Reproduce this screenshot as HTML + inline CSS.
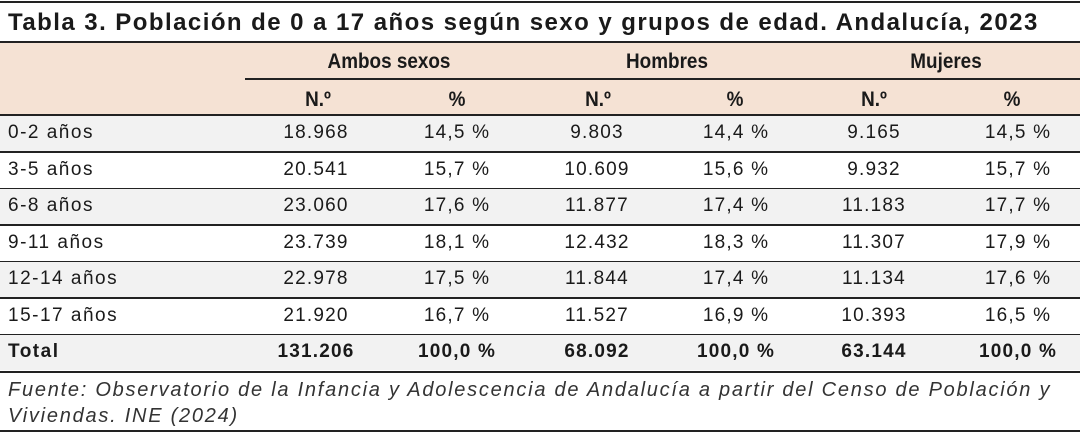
<!DOCTYPE html>
<html><head><meta charset="utf-8"><style>
body{margin:0;width:1080px;height:434px;background:#fff;position:relative;overflow:hidden;font-family:"Liberation Sans",sans-serif;color:#1a1a1a}
.a{position:absolute}
.hl{position:absolute;left:0;width:1080px;height:2px;background:#222}
.t{position:absolute;font-size:19px;letter-spacing:1.2px;white-space:nowrap;transform:translateX(-50%)}
.l{position:absolute;font-size:19px;letter-spacing:1.5px;left:8px}
.h{position:absolute;font-size:21px;font-weight:bold;transform:translateX(-50%) scaleX(0.9);white-space:nowrap}
</style></head><body>
<div class="hl" style="top:1px"></div>
<div class="a" style="left:8px;top:9px;font-size:24px;font-weight:bold;letter-spacing:1.45px;white-space:nowrap">Tabla 3. Población de 0 a 17 años según sexo y grupos de edad. Andalucía, 2023</div>
<div class="hl" style="top:41px"></div>
<div class="a" style="left:0;top:43px;width:1080px;height:72px;background:#f5e2d4"></div>
<div class="a" style="left:245px;top:78px;width:835px;height:2px;background:#222"></div>
<div class="h" style="left:389px;top:50px">Ambos sexos</div>
<div class="h" style="left:667px;top:50px">Hombres</div>
<div class="h" style="left:946px;top:50px">Mujeres</div>
<div class="h" style="left:318px;top:88px">N.º</div>
<div class="h" style="left:457px;top:88px">%</div>
<div class="h" style="left:598px;top:88px">N.º</div>
<div class="h" style="left:735px;top:88px">%</div>
<div class="h" style="left:874px;top:88px">N.º</div>
<div class="h" style="left:1012px;top:88px">%</div>
<div class="hl" style="top:114px"></div>
<div id="rows"></div>
<div class="hl" style="top:371px"></div>
<div class="a" style="left:8px;top:377px;font-size:20px;letter-spacing:1.75px;font-style:italic;line-height:26px;color:#333;width:1075px;white-space:nowrap">Fuente: Observatorio de la Infancia y Adolescencia de Andalucía a partir del Censo de Población y<br>Viviendas. INE (2024)</div>
<div class="hl" style="top:430px"></div>
<script>
const labels=["0-2 años","3-5 años","6-8 años","9-11 años","12-14 años","15-17 años","Total"];
const ambosN=["18.968","20.541","23.060","23.739","22.978","21.920","131.206"];
const ambosP=["14,5 %","15,7 %","17,6 %","18,1 %","17,5 %","16,7 %","100,0 %"];
const hombresN=["9.803","10.609","11.877","12.432","11.844","11.527","68.092"];
const hombresP=["14,4 %","15,6 %","17,4 %","18,3 %","17,4 %","16,9 %","100,0 %"];
const mujeresN=["9.165","9.932","11.183","11.307","11.134","10.393","63.144"];
const mujeresP=["14,5 %","15,7 %","17,7 %","17,9 %","17,6 %","16,5 %","100,0 %"];
const cols=[[ambosN,316,"ambos-n"],[ambosP,457,"ambos-pct"],[hombresN,597,"hombres-n"],[hombresP,736,"hombres-pct"],[mujeresN,874,"mujeres-n"],[mujeresP,1018,"mujeres-pct"]];
const root=document.getElementById('rows');
const top0=116,rh=36.5;
labels.forEach((lab,i)=>{
  const y=top0+i*rh;
  const bg=document.createElement('div');
  bg.className='a';
  bg.style.cssText=`left:0;top:${y}px;width:1080px;height:${rh-1.5}px;background:${i%2==0?'#f2f2f2':'#fff'}`;
  
  
  root.appendChild(bg);
  if(i<labels.length-1){
    const ln=document.createElement('div');
    ln.className='hl';
    ln.style.top=(y+rh-1.5)+'px';
    
    
    root.appendChild(ln);
  }
  const bold=i==labels.length-1;
  const l=document.createElement('div');
  l.className='l';
  l.style.top=(y+6)+'px';
  if(bold)l.style.fontWeight='bold';
  l.textContent=lab;
  
  
  root.appendChild(l);
  cols.forEach(c=>{
    const d=document.createElement('div');
    d.className='t';
    d.style.left=c[1]+'px';
    d.style.top=(y+6)+'px';
    if(bold)d.style.fontWeight='bold';
    d.textContent=c[0][i];
    
    
    root.appendChild(d);
  });
});
</script>
</body></html>
